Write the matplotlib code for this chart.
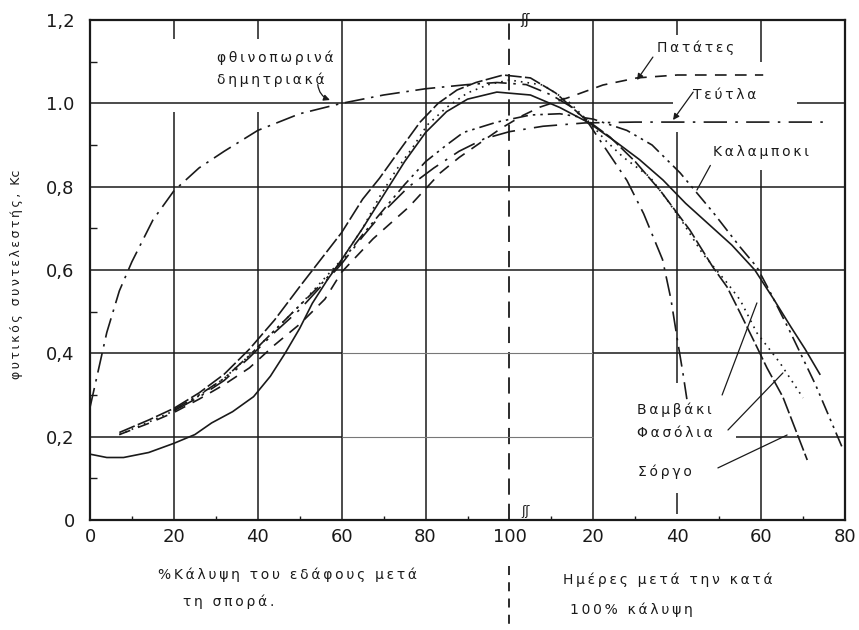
import matplotlib

matplotlib.use("Agg")
import matplotlib.pyplot as plt

# x axis: 0-100 = % ground cover, 100-180 = days after full cover (0-80)
xtick_pos = [0, 20, 40, 60, 80, 100, 120, 140, 160, 180]
xtick_labels = ["0", "20", "40", "60", "80", "100", "20", "40", "60", "80"]
ytick_pos = [0, 0.2, 0.4, 0.6, 0.8, 1.0, 1.2]
ytick_labels = ["0", "0,2", "0,4", "0,6", "0,8", "1.0", "1,2"]

# winter cereals (dash-dot), drops off steeply after full cover
cereal_x = [0, 2, 4, 7, 10, 15, 20, 26, 32, 40, 50, 60, 70, 80, 90, 97, 104,
            110, 115, 119, 124, 128, 132, 136.5, 138.5, 140, 141.4, 142.3]
cereal_y = [0.27, 0.36, 0.45, 0.55, 0.62, 0.72, 0.79, 0.845, 0.885, 0.935, 0.975,
            1.0, 1.02, 1.035, 1.045, 1.05, 1.045, 1.02, 0.99, 0.95, 0.875, 0.815,
            0.735, 0.625, 0.53, 0.435, 0.35, 0.29]

# potatoes (dashed)
potato_x = [7, 14, 20, 26, 32, 38, 44, 50, 56, 60, 67.5, 76, 83.5, 88, 93, 98,
            103, 107.3, 114.4, 122.3, 130.4, 140, 160.5]
potato_y = [0.205, 0.232, 0.258, 0.29, 0.325, 0.365, 0.42, 0.47, 0.53, 0.595,
            0.675, 0.751, 0.833, 0.87, 0.905, 0.94, 0.97, 0.991, 1.015, 1.044,
            1.061, 1.068, 1.068]

# sugar beet (dash-dot, levels off)
beet_x = [20, 26, 32, 38, 44, 50, 55, 60, 65, 70, 76, 82, 88, 94, 100, 108, 118,
          130, 150, 175]
beet_y = [0.262, 0.295, 0.335, 0.39, 0.45, 0.505, 0.56, 0.615, 0.68, 0.74, 0.8,
          0.845, 0.885, 0.915, 0.932, 0.945, 0.953, 0.955, 0.955, 0.955]

# maize (dash-dot-dot)
corn_x = [20, 26, 32, 38, 44, 50, 55, 60, 65, 70, 75, 80, 85, 89, 97, 105, 112,
          120, 128, 134, 140.7, 148.5, 155, 159, 162, 167, 173, 179.3]
corn_y = [0.265, 0.3, 0.34, 0.395, 0.455, 0.515, 0.565, 0.62, 0.685, 0.745, 0.805,
          0.86, 0.9, 0.93, 0.955, 0.972, 0.975, 0.962, 0.935, 0.9, 0.833, 0.739,
          0.655, 0.607, 0.55, 0.45, 0.324, 0.175]

# solid curve starting low
solid_x = [0, 4, 8, 14, 20, 25, 29, 34, 39, 43, 46.5, 50, 53, 56.5, 60, 65, 70,
           75, 80, 85, 90, 97, 105, 112, 119, 125.7, 131, 136.6, 142, 147.5, 153,
           158.5, 163, 167, 170.5, 174]
solid_y = [0.158, 0.15, 0.15, 0.162, 0.184, 0.205, 0.233, 0.26, 0.296, 0.345, 0.4,
           0.46, 0.52, 0.575, 0.625, 0.7, 0.78, 0.86, 0.93, 0.98, 1.01, 1.027,
           1.02, 0.99, 0.953, 0.905, 0.865, 0.816, 0.76, 0.71, 0.66, 0.6, 0.53,
           0.465, 0.41, 0.35]

# highest peak (long dashes)
peak_x = [7, 14, 20, 26, 32, 38, 44, 50, 55, 60, 65, 69, 74, 78.7, 83, 87.5, 92,
          98.5, 105, 111, 117.5, 124, 130, 136, 143, 148.5, 151.9, 155, 159,
          161.4, 165.2, 171]
peak_y = [0.21, 0.24, 0.268, 0.305, 0.35, 0.41, 0.48, 0.56, 0.625, 0.69, 0.77,
          0.82, 0.89, 0.955, 1.0, 1.032, 1.05, 1.068, 1.061, 1.025, 0.967, 0.919,
          0.86, 0.79, 0.696, 0.607, 0.559, 0.497, 0.415, 0.365, 0.295, 0.144]

# dotted curve
dot_x = [7, 14, 20, 26, 32, 38, 44, 50, 55, 60, 65, 69, 73, 77, 80.4, 85, 90, 95,
         100, 108, 114, 119, 123, 127.1, 133.5, 137.6, 141.4, 146, 151.9, 155,
         159, 164.5, 170]
dot_y = [0.205, 0.235, 0.262, 0.298, 0.34, 0.395, 0.455, 0.515, 0.57, 0.625, 0.7,
         0.775, 0.84, 0.895, 0.948, 0.99, 1.025, 1.045, 1.056, 1.044, 1.005,
         0.955, 0.91, 0.871, 0.823, 0.768, 0.713, 0.64, 0.569, 0.528, 0.449,
         0.377, 0.293]

W, H = 859, 630
INK = "#1a1a1a"


def sp(s):
    # widen letter spacing like the typed originals
    return "\u2009".join(s)


def fpos(x, y):
    return x / W, 1 - y / H


fig = plt.figure(figsize=(W / 100, H / 100), dpi=100)
ax = fig.add_axes([90 / W, 1 - 520 / H, 755 / W, 500 / H])
ax.set_xlim(0, 180)
ax.set_ylim(0, 1.2)

# grid, drawn piecewise where the print leaves gaps
g = dict(color=INK, lw=1.1, zorder=1)
ax.vlines(60, 0, 1.2, **g)
ax.vlines(80, 0, 1.2, **g)
ax.vlines(120, 0, 1.2, **g)
for xv in (20, 40):
    ax.vlines(xv, 1.155, 1.2, **g)
    ax.vlines(xv, 0, 0.98, **g)
ax.vlines(140, 1.165, 1.2, **g)
ax.vlines(140, 0.33, 0.93, **g)
ax.vlines(140, 0.015, 0.065, **g)
ax.vlines(160, 1.10, 1.2, **g)
ax.vlines(160, 0, 0.84, **g)
ax.plot([100, 100], [0, 1.2], color=INK, lw=1.3, ls=(0, (9, 5)), zorder=1)
ax.plot([100, 100], [-0.11, -0.27], color=INK, lw=1.3, ls=(0, (5, 4)),
        clip_on=False)

for yv in (0.6, 0.8):
    ax.hlines(yv, 0, 180, **g)
ax.hlines(1.0, 0, 139, **g)
ax.hlines(1.0, 168.6, 180, **g)
for yv in (0.2, 0.4):
    ax.hlines(yv, 0, 60, **g)
    ax.hlines(yv, 60, 120, color="#777777", lw=0.8, zorder=1)
ax.hlines(0.4, 120, 180, **g)
ax.hlines(0.2, 154, 180, **g)

# Kc curves
lw = 1.2
ax.plot(cereal_x, cereal_y, color=INK, lw=lw, ls=(0, (12, 4, 1.5, 4)))
ax.plot(potato_x, potato_y, color=INK, lw=lw, ls=(0, (7, 5)))
ax.plot(beet_x, beet_y, color=INK, lw=lw, ls=(0, (14, 5, 1.5, 5)))
ax.plot(corn_x, corn_y, color=INK, lw=lw, ls=(0, (9, 3, 1.5, 3, 1.5, 3)))
ax.plot(solid_x, solid_y, color=INK, lw=lw, ls="-")
ax.plot(peak_x, peak_y, color=INK, lw=lw, ls=(0, (10, 2)))
ax.plot(dot_x, dot_y, color=INK, lw=lw, ls=(0, (1, 3)))

# ticks and frame
ax.set_xticks(xtick_pos)
ax.set_xticklabels(xtick_labels)
ax.set_yticks(ytick_pos)
ax.set_yticklabels(ytick_labels)
ax.set_yticks([0.1, 0.3, 0.5, 0.7, 0.9, 1.1], minor=True)
ax.set_xticks([10, 30, 50, 70, 90, 110, 130, 150, 170], minor=True)
ax.tick_params(which="major", length=0, labelsize=13, colors=INK)
ax.tick_params(axis="y", which="major", pad=11)
ax.tick_params(axis="x", which="major", pad=6)
ax.tick_params(which="minor", direction="in", length=5, width=1, colors=INK)
ax.tick_params(axis="x", which="minor", length=3)
for s in ax.spines.values():
    s.set_linewidth(1.6)
    s.set_color(INK)

# crop labels
lab = dict(fontsize=10, color=INK, ha="left", va="center")
ax.text(30.3, 1.109, sp("φθινοπωρινά"), **lab)
ax.text(30.3, 1.056, sp("δημητριακά"), **lab)
ax.text(135.2, 1.133, sp("Πατάτες"), **lab)
ax.text(143.8, 1.02, sp("Τεύτλα"), **lab)
ax.text(148.5, 0.883, sp("Καλαμποκι"), **lab)
ax.text(130.4, 0.264, sp("Βαμβάκι"), **lab)
ax.text(130.4, 0.209, sp("Φασόλια"), **lab)
ax.text(130.7, 0.115, sp("Σόργο"), **lab)

arrow = dict(arrowstyle="-|>", color=INK, lw=0.9, mutation_scale=9,
             shrinkA=0, shrinkB=0)
plain = dict(arrowstyle="-", color=INK, lw=0.9, shrinkA=0, shrinkB=0)
ax.annotate("", xy=(57.2, 1.008), xytext=(54.3, 1.045),
            arrowprops=dict(arrow, connectionstyle="arc3,rad=0.3"))
ax.annotate("", xy=(130.4, 1.056), xytext=(134.2, 1.111), arrowprops=arrow)
ax.annotate("", xy=(139.0, 0.960), xytext=(143.8, 1.027), arrowprops=arrow)
ax.annotate("", xy=(144.7, 0.792), xytext=(147.9, 0.851), arrowprops=plain)
ax.annotate("", xy=(159.0, 0.521), xytext=(150.7, 0.300), arrowprops=plain)
ax.annotate("", xy=(165.2, 0.353), xytext=(152.1, 0.216), arrowprops=plain)
ax.annotate("", xy=(166.2, 0.204), xytext=(149.7, 0.125), arrowprops=plain)

# axis break marks at 100
ax.text(103.6, 1.2, "ʃʃ", fontsize=10, color=INK, ha="center", va="center",
        clip_on=False)
ax.text(103.8, 0.02, "ʃʃ", fontsize=9, color=INK, ha="center", va="center",
        clip_on=False)

# axis titles
fig.text(*fpos(17, 274), sp("φυτικός συντελεστής,") + "  Kc", rotation=90,
         fontsize=9, color=INK, ha="center", va="center")
fig.text(*fpos(158, 575), sp("%Κάλυψη του εδάφους μετά"), fontsize=10,
         color=INK, ha="left", va="center")
fig.text(*fpos(183, 602), sp("τη σπορά."), fontsize=10, color=INK,
         ha="left", va="center")
fig.text(*fpos(563, 580), sp("Ημέρες μετά την κατά"), fontsize=10, color=INK,
         ha="left", va="center")
fig.text(*fpos(570, 610), sp("100% κάλυψη"), fontsize=10, color=INK,
         ha="left", va="center")

fig.savefig("out.png", dpi=100)
plt.close(fig)
